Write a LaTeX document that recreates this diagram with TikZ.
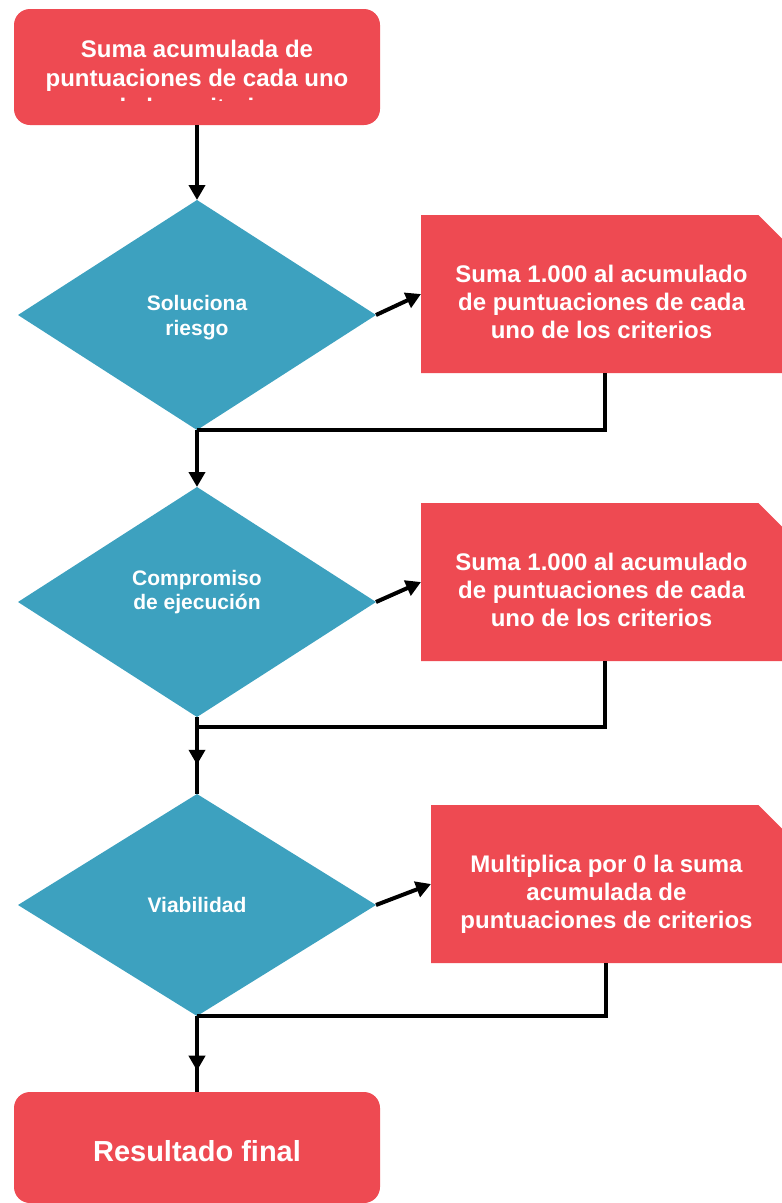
\documentclass[tikz,border=0pt]{standalone}
\usepackage{fontspec}
\setmainfont{Liberation Sans}
\usetikzlibrary{arrows.meta, positioning, shapes.geometric, shapes.misc, decorations.markings}
\definecolor{boxred}{RGB}{238,74,82}
\definecolor{diateal}{RGB}{61,161,191}

\begin{document}
\begin{tikzpicture}[>={Triangle[length=15pt,width=16pt]}, line width=4pt]
\tikzset{start/.style={rectangle, rounded corners=16pt, fill=boxred, text=white, inner sep=0pt, outer sep=0pt, minimum width=366pt, minimum height=116pt, font=\bfseries\fontsize{29}{34}\selectfont},
		decision/.style={diamond, fill=diateal, text=white, align=center, inner sep=0pt, outer sep=0pt, minimum width=358pt, minimum height=230pt, font=\bfseries\fontsize{21}{25}\selectfont},
		process/.style={chamfered rectangle, chamfered rectangle corners=north east, chamfered rectangle angle=45, chamfered rectangle xsep=20pt, fill=boxred, text=white, align=center, inner sep=0pt, outer sep=0pt, minimum width=361pt, minimum height=158pt, text height=89.5pt, font=\bfseries\fontsize{24}{28}\selectfont},
		midarrow/.style={postaction={decorate, decoration={markings, mark=at position #1 with {\arrow{>}}}}}}
\useasboundingbox (0,0) rectangle (782pt,-1203pt);
\node[start] (Top) at (197pt,-67pt) {};
\begin{scope}
\clip (Top.north west) rectangle ([yshift=25pt]Top.south east);
\node[text=white, align=center, outer sep=0pt, font=\bfseries\fontsize{24}{29}\selectfont] (TopTxt) at ([yshift=-11pt]Top.center) {Suma acumulada de\\puntuaciones de cada uno\\de los criterios};
\end{scope}
\node[decision, below=75pt of Top, text height=46pt] (Risk) {Soluciona\\riesgo};
\node[process, right=45pt of Risk, yshift=21pt] (AddRisk) {Suma 1.000 al acumulado\\de puntuaciones de cada\\uno de los criterios};
\draw[->] (Top) -- (Risk);
\draw[->] (Risk.east) -- (AddRisk.west);
\draw ([xshift=3pt]AddRisk.south) |- (Risk.south);
\node[decision, below=57pt of Risk, text depth=24pt, font=\bfseries\fontsize{21}{24}\selectfont] (Exec) {Compromiso\\de ejecución};
\node[process, right=45pt of Exec, yshift=20pt] (AddExec) {Suma 1.000 al acumulado\\de puntuaciones de cada\\uno de los criterios};
\draw[->] (Risk) -- (Exec);
\draw[->] (Exec.east) -- (AddExec.west);
\node[decision, below=77pt of Exec, minimum height=222pt] (Viab) {Viabilidad};
\node[process, right=55pt of Viab, yshift=21pt, minimum width=351pt, text height=93pt] (Zero) {Multiplica por 0 la suma\\acumulada de\\puntuaciones de criterios};
\coordinate[below=10pt of Exec.south] (JoinExec);
\draw ([xshift=3pt]AddExec.south) |- (JoinExec);
\draw[midarrow=0.62] (Exec.south) -- (Viab.north);
\draw[->] (Viab.east) -- (Zero.west);
\node[start, below=76pt of Viab, minimum height=111pt, text height=29pt] (Result) {Resultado final};
\draw ([xshift=-1pt]Zero.south) |- (Viab.south);
\draw[midarrow=0.72] (Viab.south) -- (Result.north);
\end{tikzpicture}
\end{document}
